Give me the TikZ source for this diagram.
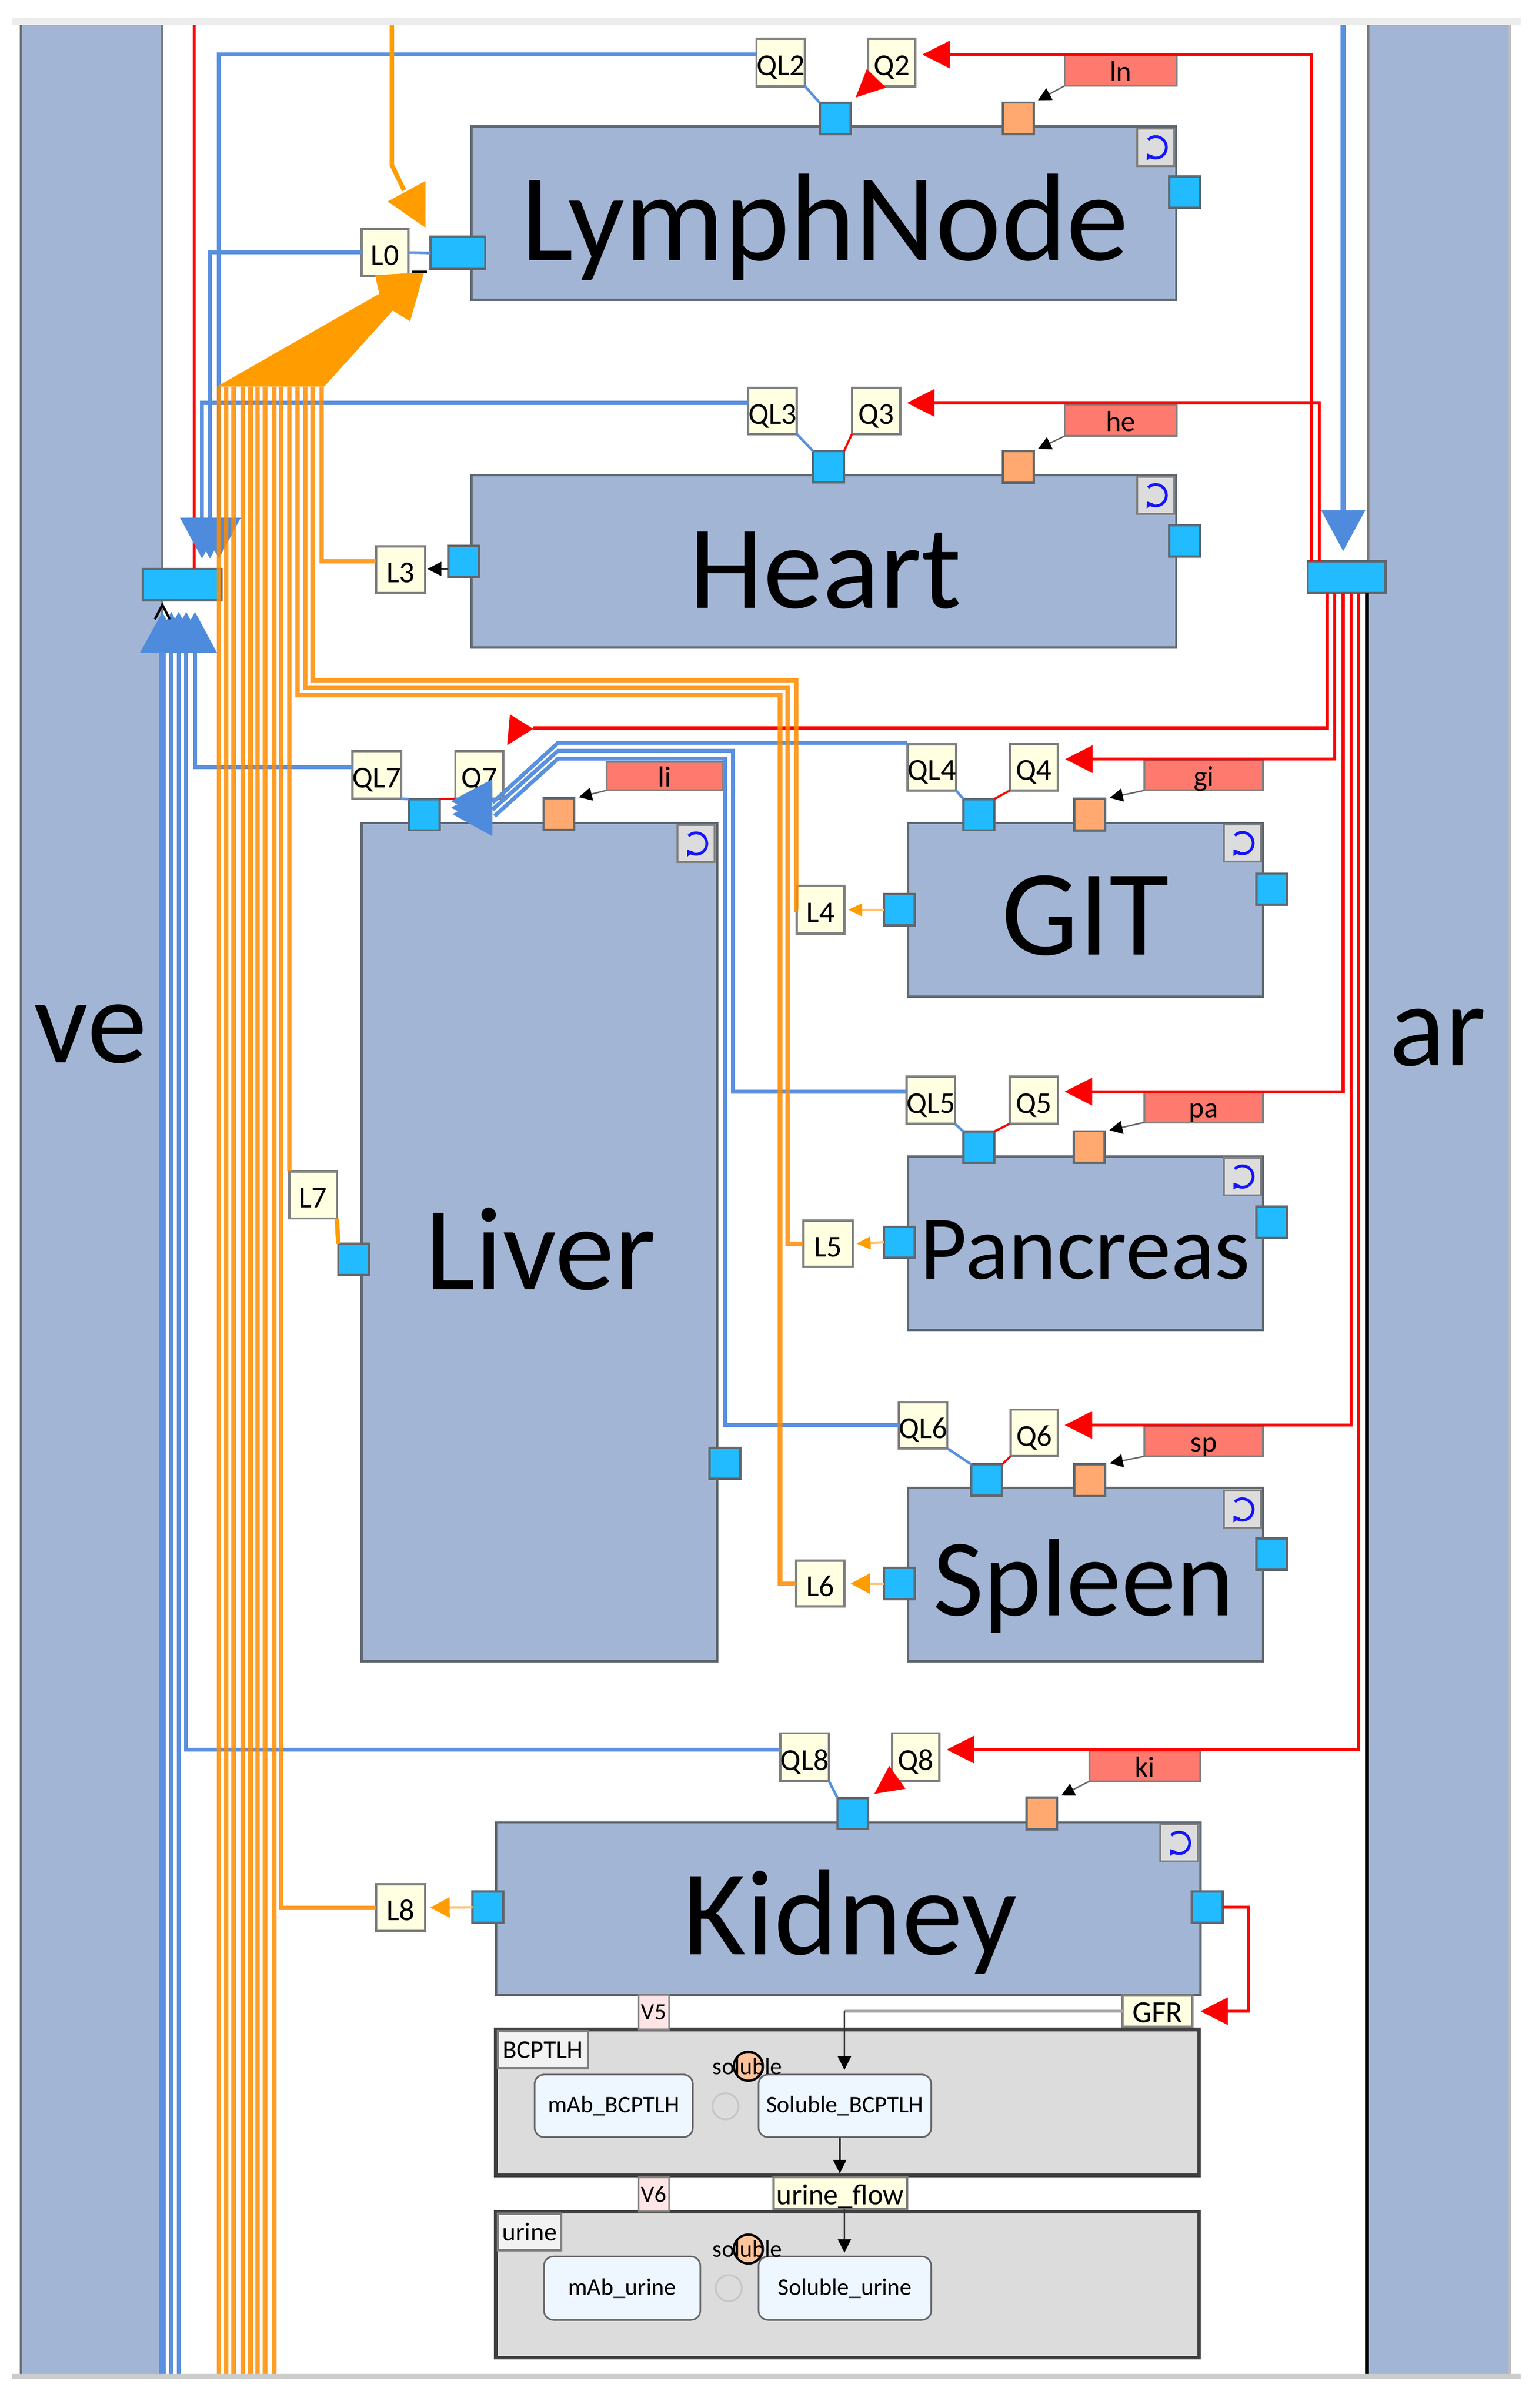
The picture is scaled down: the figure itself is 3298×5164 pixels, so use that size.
\documentclass[tikz,border=0pt]{standalone}
\usepackage{fontspec}
\setmainfont{Carlito}
\usetikzlibrary{arrows.meta}
\definecolor{panel}{HTML}{A2B5D4}
\definecolor{portb}{HTML}{22BBFF}
\definecolor{porto}{HTML}{FFA970}
\definecolor{edgeg}{HTML}{5F6870}
\definecolor{yell}{HTML}{FFFFE2}
\definecolor{redl}{HTML}{FF7A6E}
\definecolor{bl}{HTML}{5A90E0}
\definecolor{blh}{HTML}{4F8BDC}
\definecolor{org}{HTML}{FF9D00}
\definecolor{orgt}{HTML}{FF8C00}
\definecolor{orgp}{HTML}{FFC070}
\definecolor{comp}{HTML}{DCDCDC}
\definecolor{specf}{HTML}{EEF6FF}
\newcommand{\fz}[1]{\fontsize{#1}{#1}\selectfont}
\newcommand{\rb}[7]{%
  \pgfmathsetmacro\cxx{(#3+#5)/2}\pgfmathsetmacro\cyy{(#4+#6)/2}%
  \pgfmathsetmacro\www{(#5-#3)*0.2}\pgfmathsetmacro\hhh{(#6-#4)*0.2}%
  \node[#1,minimum width=\www pt,minimum height=\hhh pt] (#2) at (\cxx,\cyy) {#7};}
\newcommand{\icn}[3]{%
  \node[iconbox] (#1) at (#2,#3) {};
  \draw[iconarc] ([shift={(135:4.6pt)}]#1.center) arc[start angle=135,end angle=-145,radius=4.6pt];}
\tikzset{
  base/.style={rectangle,inner sep=0pt,outer sep=0pt},
  organ/.style={base,fill=panel,draw=edgeg,line width=1pt},
  bigt/.style={inner sep=0pt,anchor=base,text=black},
  port/.style={base,fill=portb,draw=edgeg,line width=1pt,minimum width=13.2pt,minimum height=13.4pt},
  oport/.style={base,fill=porto,draw=edgeg,line width=1pt,minimum width=13.2pt,minimum height=13.6pt},
  lab/.style={base,fill=yell,draw=gray,line width=1pt,font=\fz{13},text height=11pt,text depth=0pt},
  redbox/.style={base,fill=redl,draw=gray,line width=.8pt,font=\fz{12.4},text height=9.2pt,text depth=0pt},
  vbox/.style={base,fill=red!10,draw=gray,line width=.8pt,font=\fz{10}},
  tabbox/.style={base,fill=black!5,draw=gray,line width=1pt,font=\fz{11}},
  cmp/.style={base,fill=comp,draw=black!75,line width=1.6pt},
  spec/.style={base,rounded corners=4pt,fill=specf,draw=black!60,line width=.7pt,font=\fz{10.2}},
  iconbox/.style={base,fill=comp,draw=gray,line width=.8pt,minimum width=16pt,minimum height=16pt},
  iconarc/.style={draw={rgb,255:red,20;green,20;blue,255},line width=1.2pt,-{Triangle[length=2.4pt,width=3.4pt]}},
  bline/.style={draw=bl,line width=1.7pt},
  bhead/.style={bline,-{Triangle[length=17.6pt,width=18.4pt,color=blh]}},
  bthin/.style={draw=bl,line width=1.1pt},
  rline/.style={draw=red,line width=1.3pt},
  rarrow/.style={rline,-{Triangle[length=11.8pt,width=11.6pt]}},
  rthin/.style={draw=red,line width=.9pt},
  oline/.style={draw=orgt,draw opacity=.85,line width=1.9pt},
  opale/.style={draw=orgp,line width=1pt},
  osmall/.style={opale,-{Triangle[length=6pt,width=5.4pt,color=org]}},
  obig/.style={opale,-{Triangle[length=8.4pt,width=8.6pt,color=org]}},
  karrow/.style={draw=black!60,line width=.6pt,-{Triangle[length=5.6pt,width=5.6pt,color=black]},shorten >=2pt},
  sarrow/.style={draw=black!80,line width=.7pt,-{Triangle[length=5.8pt,width=5.6pt,color=black]}}
}
\begin{document}
\begin{tikzpicture}[x=0.2pt,y=-0.2pt]
\useasboundingbox (0,0) rectangle (3298,5164);
% frame bands and side panels
\fill[black!7] (26,38) rectangle (3260,54);
\fill[black!20] (26,5091) rectangle (3260,5102);
\fill[panel] (42,54) rectangle (348,5091);
\fill[black!55] (42,54) rectangle (47,5091);
\fill[black!50] (345,54) rectangle (350,5091);
\fill[panel] (2932,54) rectangle (3234,5091);
\fill[black!50] (2930,54) rectangle (2935,1204);
\fill[black!25] (3234,54) rectangle (3239,5091);
\node[bigt,font=\fz{51.4}] (veT) at (194,2279) {ve};
\node[bigt,font=\fz{50}] (arT) at (3082,2285) {ar};
% organs
\rb{organ}{lymph}{1011}{271}{2521}{643}{}
\rb{organ}{heart}{1011}{1019}{2521}{1389}{}
\rb{organ}{liver}{775}{1765}{1537}{3563}{}
\rb{organ}{git}{1946}{1765}{2707}{2137}{}
\rb{organ}{pancreas}{1946}{2480}{2707}{2852}{}
\rb{organ}{spleen}{1946}{3191}{2707}{3563}{}
\rb{organ}{kidney}{1063}{3908}{2573}{4278}{}
\node[bigt,font=\fz{53.4}] (lymphT) at (1768,558) {LymphNode};
\node[bigt,font=\fz{51}] (heartT) at (1769,1304) {Heart};
\node[bigt,font=\fz{51}] (liverT) at (1159,2765) {Liver};
\node[bigt,font=\fz{52.4}] (gitT) at (2326,2048) {GIT};
\node[bigt,font=\fz{39}] (pancT) at (2326,2743) {Pancreas};
\node[bigt,font=\fz{47.2}] (splT) at (2323,3464) {Spleen};
\node[bigt,font=\fz{52.2}] (kidT) at (1822,4192) {Kidney};
% loop icons
\icn{iL}{2477}{316}
\icn{iH}{2477}{1062}
\icn{iLv}{1492}{1809}
\icn{iG}{2663}{1808}
\icn{iP}{2663}{2523}
\icn{iS}{2663}{3237}
\icn{iK}{2527}{3952}
% mixing nodes
\rb{base,fill=portb,draw=edgeg,line width=1pt}{ar}{2803}{1204}{2970}{1272}{}
\rb{base,fill=portb,draw=edgeg,line width=1pt}{vn}{306}{1220}{475}{1287}{}
% ports
\rb{base,fill=portb,draw=edgeg,line width=1pt}{pLl}{923}{508}{1040}{577}{}
\node[port] (pL) at (1790,254) {};
\node[oport] (oL) at (2183,254) {};
\node[port] (pLr) at (2539,412) {};
\node[port] (pH) at (1776,1001) {};
\node[oport] (oH) at (2183,1001) {};
\node[port] (pHr) at (2539,1160) {};
\node[port] (pHl) at (994,1204) {};
\node[port] (pV) at (909,1747) {};
\node[oport] (oV) at (1198,1746) {};
\node[port] (pVl) at (758,2701) {};
\node[port] (pVr) at (1554,3138) {};
\node[port] (pG) at (2098,1747) {};
\node[oport] (oG) at (2336,1747) {};
\node[port] (pGr) at (2726,1907) {};
\node[port] (pGl) at (1928,1951) {};
\node[port] (pP) at (2098,2460) {};
\node[oport] (oP) at (2335,2460) {};
\node[port] (pPr) at (2726,2621) {};
\node[port] (pPl) at (1928,2664) {};
\node[port] (pS) at (2115,3174) {};
\node[oport] (oS) at (2336,3174) {};
\node[port] (pSr) at (2726,3333) {};
\node[port] (pSl) at (1928,3396) {};
\node[port] (pK) at (1828,3889) {};
\node[oport] (oK) at (2233,3889) {};
\node[port] (pKl) at (1046,4090) {};
\node[port] (pKr) at (2588,4090) {};
% yellow labels
\rb{lab}{QLb}{1623}{83}{1724}{185}{QL2}
\rb{lab}{Qb}{1861}{83}{1962}{185}{Q2}
\rb{lab}{QLc}{1604}{832}{1708}{931}{QL3}
\rb{lab}{Qc}{1826}{832}{1930}{931}{Q3}
\rb{lab}{Lz}{775}{491}{875}{592}{L0}
\rb{lab}{Lc}{806}{1172}{911}{1272}{L3}
\rb{lab}{QLg}{756}{1611}{859}{1713}{QL7}
\rb{lab}{Qg}{976}{1611}{1079}{1713}{Q7}
\rb{lab}{Ld}{1708}{1900}{1810}{2002}{L4}
\rb{lab}{QLd}{1946}{1596}{2048}{1695}{QL4}
\rb{lab}{Qd}{2165}{1595}{2267}{1695}{Q4}
\rb{lab}{QLe}{1943}{2309}{2047}{2410}{QL5}
\rb{lab}{Qe}{2164}{2309}{2268}{2410}{Q5}
\rb{lab}{Le}{1722}{2618}{1828}{2717}{L5}
\rb{lab}{QLf}{1928}{3007}{2029}{3106}{QL6}
\rb{lab}{Qf}{2166}{3023}{2267}{3123}{Q6}
\rb{lab}{Lf}{1707}{3347}{1810}{3445}{L6}
\rb{lab}{QLh}{1675}{3717}{1775}{3820}{QL8}
\rb{lab}{Qh}{1912}{3717}{2013}{3820}{Q8}
\rb{lab}{Lh}{806}{4041}{911}{4141}{L8}
\rb{lab}{Lg}{620}{2512}{722}{2613}{L7}
% red flow labels
\rb{redbox}{ln}{2282}{118}{2522}{184}{ln}
\rb{redbox}{he}{2282}{869}{2522}{935}{he}
\rb{redbox}{li}{1300}{1634}{1550}{1695}{li}
\rb{redbox}{gi}{2453}{1630}{2707}{1695}{gi}
\rb{redbox}{pa}{2453}{2341}{2707}{2407}{pa}
\rb{redbox}{sp}{2453}{3058}{2707}{3123}{sp}
\rb{redbox}{ki}{2335}{3754}{2573}{3820}{ki}
% compartments
\rb{cmp}{bcp}{1063}{4352}{2570}{4665}{}
\rb{cmp}{uri}{1063}{4743}{2570}{5056}{}
\rb{tabbox}{tb}{1067}{4356}{1260}{4435}{BCPTLH}
\rb{tabbox}{tu}{1067}{4747}{1203}{4826}{urine}
\rb{vbox}{vf}{1369}{4278}{1434}{4352}{V5}
\rb{vbox}{vs}{1369}{4669}{1434}{4743}{V6}
\rb{lab,font=\fz{13.2},text height=10pt}{gfr}{2406}{4279}{2556}{4346}{GFR}
\rb{lab,font=\fz{12.4},text height=10pt,draw=black!50}{uf}{1658}{4669}{1944}{4737}{urine\_flow}
\rb{spec}{mB}{1146}{4449}{1485}{4583}{mAb\_BCPTLH}
\rb{spec}{sB}{1626}{4449}{1996}{4583}{Soluble\_BCPTLH}
\rb{spec}{mU}{1166}{4839}{1501}{4975}{mAb\_urine}
\rb{spec}{sU}{1626}{4839}{1996}{4975}{Soluble\_urine}
\draw[black!22,line width=.8pt] (1555,4517) circle[radius=5.6pt];
\draw[black!22,line width=.8pt] (1562,4907) circle[radius=5.6pt];
\filldraw[fill=porto!70!white,draw=black,line width=1pt] (1604,4431) circle[radius=6.2pt];
\filldraw[fill=porto!70!white,draw=black,line width=1pt] (1604,4823) circle[radius=6.2pt];
\node[font=\fz{10.2},inner sep=0pt] (solA) at (1602,4431) {soluble};
\node[font=\fz{10.2},inner sep=0pt] (solB) at (1602,4823) {soluble};
% free ends
\coordinate (botA) at (348,5091);
\coordinate (botB) at (367,5091);
\coordinate (botC) at (383,5091);
\coordinate (topR) at (416,54);
\coordinate (topB) at (2879,54);
\coordinate (topO) at (840,54);
% red flows
\draw[rline] (topR) -- (vn.north -| topR);
\draw[rarrow,shorten >=3pt] (ar.north -| 2811,0) |- (Qb.east |- 0,117);
\draw[rarrow,shorten >=2.8pt] (ar.north -| 2828,0) |- (Qc.east |- 0,864);
\coordinate (liEnd) at (1143,1561);
\draw[rline] (ar.south -| 2845,0) |- (liEnd);
\fill[red] (1093,1532) -- (1087,1598) -- (1143,1563) -- cycle;
\draw[rarrow,shorten >=3.2pt] (ar.south -| 2861,0) |- (Qd.east |- 0,1628);
\draw[rarrow,shorten >=2.8pt] (ar.south -| 2879,0) |- (Qe.east |- 0,2341);
\draw[rarrow,shorten >=3pt] (ar.south -| 2896,0) |- (Qf.east |- 0,3056);
\draw[rarrow,shorten >=3.2pt] (ar.south -| 2912,0) |- (Qh.east |- 0,3752);
\draw[line width=1.6pt,black] (ar.south -| 2930,0) -- (2930,5091);
\fill[red] (1858,148) -- (1899,188) -- (1834,209) -- cycle;
\fill[red] (1906,3787) -- (1941,3836) -- (1874,3847) -- cycle;
\draw[rthin] (Qc.south west) -- (pH.north east);
\draw[rthin] (Qd.south west) -- (pG.north east);
\draw[rthin] (Qe.south west) -- (pP.north east);
\draw[rthin] (Qf.south west) -- (pS.north east);
\draw[rthin] (pV.north east) -- (Qg.south west);
\draw[rline,-{Triangle[length=11.8pt,width=11.6pt]},shorten >=3.4pt] (pKr.east) -| (2676,4313) -- (gfr.east |- 0,4313);
% blue flows
\draw[bhead,line width=2.2pt,shorten >=4.4pt] (topB) -- (ar.north -| topB);
\draw[bhead,shorten >=4.4pt] (QLc.west |- 0,864) -| (vn.north -| 433,0);
\draw[bhead,shorten >=4.4pt] (Lz.west) -| (vn.north -| 450,0);
\draw[bhead,shorten >=4.4pt] (QLb.west |- 0,117) -| (vn.north -| 469,0);
\draw[bthin] (pLl.west) -- (Lz.east);
\draw[bhead,line width=3pt,shorten >=5pt] (botA) -- (vn.south -| botA);
\draw[bhead,line width=1.8pt,shorten >=5pt] (botB) -- (vn.south -| botB);
\draw[bhead,line width=1.6pt,shorten >=5pt] (botC) -- (vn.south -| botC);
\draw[bhead,shorten >=5pt] (QLh.west |- 0,3752) -| (vn.south -| 399,0);
\draw[bhead,shorten >=5pt] (QLg.west |- 0,1645) -| (vn.south -| 418,0);
\draw[black,line width=1pt] (332,1328) -- (348,1297) -- (364,1328);
\draw[bline] (QLd.west |- 0,1593) -- (1196,1593) -- (1056,1721);
\draw[bline] (QLe.west |- 0,2341) -| (1571,1610) -- (1196,1610) -- (1056,1736);
\draw[bline] (QLf.west |- 0,3056) -| (1554,1627) -- (1196,1627) -- (1060,1750);
\fill[blh] (1055,1671) -- (967,1718) -- (1055,1765) -- cycle;
\fill[blh] (1055,1685) -- (967,1732) -- (1055,1779) -- cycle;
\fill[blh] (1055,1699) -- (970,1746) -- (1055,1793) -- cycle;
\draw[bthin] (QLb.south east) -- (pL.north west);
\draw[bthin] (QLc.south east) -- (pH.north west);
\draw[bthin] (QLd.south east) -- (pG.north west);
\draw[bthin] (QLe.south east) -- (pP.north west);
\draw[bthin] (QLf.south east) -- (pS.north west);
\draw[bthin] (QLg.south east) -- (pV.north west);
\draw[bthin] (QLh.south east) -- (pK.north west);
% orange flows
\foreach \xx in {469,485,501,520,537,552,568,588} {\draw[oline] (\xx,829) -- (\xx,5091);}
\draw[oline] (603,829) |- (Lh.west);
\draw[oline] (620,829) -- (Lg.north west);
\draw[oline] (638,829) |- (1672,1491) |- (Lf.west);
\draw[oline] (654,829) |- (1688,1475) |- (Le.west);
\draw[oline] (670,829) |- (1707,1459) |- (Ld.west);
\draw[oline] (689,829) |- (Lc.west |- 0,1204);
\draw[draw=org,line width=1.9pt] (topO) -- (840,354) -- (866,408);
\fill[org] (912,388) -- (912,488) -- (831,432) -- cycle;
\fill[org] (465,829) -- (695,829) -- (842,666) -- (879,689) -- (909,584) -- (804,590) -- (813,630) -- cycle;
\draw[black,line width=1.2pt] (883,583) -- (915,583);
\draw[draw=org,line width=1.9pt] (Lg.south east) -- (pVl.north west);
\draw[sarrow,shorten >=1pt,-{Triangle[length=6pt,width=6pt,color=black]}] (pHl.west |- 0,1220) -- (Lc.east |- 0,1220);
\draw[osmall,shorten >=1.6pt] (pGl.west) -- (Ld.east);
\draw[osmall,shorten >=1.6pt] (pPl.west) -- (Le.east);
\draw[obig,shorten >=2.6pt] (pSl.west) -- (Lf.east);
\draw[obig,shorten >=2.2pt] (pKl.west) -- (Lh.east);
% black influence arrows
\draw[karrow] (ln.south west) -- (oL.north east);
\draw[karrow] (he.south west) -- (oH.north east);
\draw[karrow] (li.south west) -- (oV.north east);
\draw[karrow] (gi.south west) -- (oG.north east);
\draw[karrow] (pa.south west) -- (oP.north east);
\draw[karrow] (sp.south west) -- (oS.north east);
\draw[karrow] (ki.south west) -- (oK.north east);
% kidney subsystem connectors
\coordinate (gfrC) at (1810,4313);
\draw[draw=black!35,line width=1.4pt] (gfr.west |- gfrC) -- (gfrC);
\draw[sarrow,shorten >=2pt] (gfrC) -- (sB.north -| gfrC);
\draw[sarrow,shorten >=1.6pt] (sB.south -| 1800,0) -- (uf.north -| 1800,0);
\draw[sarrow,shorten >=1.6pt] (uf.south -| 1810,0) -- (sU.north -| 1810,0);
\end{tikzpicture}
\end{document}
